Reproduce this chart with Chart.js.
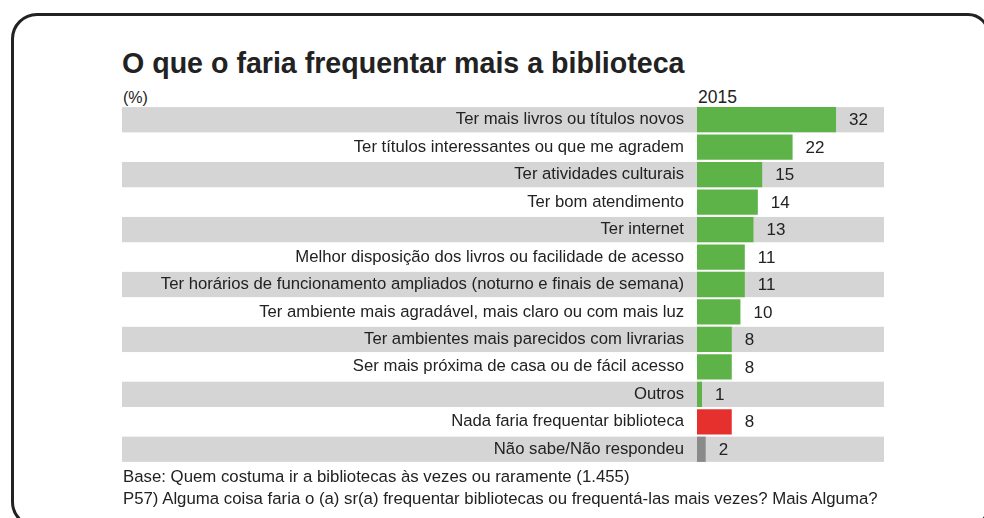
<!DOCTYPE html>
<html>
<head>
<meta charset="utf-8">
<script src="https://cdn.jsdelivr.net/npm/chart.js@4/dist/chart.umd.min.js"></script>
<style>
  body { margin: 0; background: #fff; font-family: "Liberation Sans", Arial, sans-serif; color: #222; }
  #wrap { position: relative; width: 984px; height: 518px; overflow: hidden; }
  #frame { position: absolute; left: 11px; top: 13px; width: 973px; height: 509px; border: 3px solid #222; border-radius: 26px 22px 22px 26px; }
  .txt { position: absolute; white-space: nowrap; line-height: 1; }
  #title { left: 122px; top: 49px; font-size: 28.6px; font-weight: bold; }
  #pct { left: 123px; top: 89.5px; font-size: 16px; }
  #year { left: 698px; top: 88.7px; font-size: 17.5px; }
  #base { left: 123px; top: 468.8px; font-size: 16.8px; }
  #q { left: 123px; top: 491.3px; font-size: 16.8px; }
  canvas { position: absolute; left: 0; top: 0; }
</style>
</head>
<body>
<div id="wrap">
  <div id="frame"></div>
  <div class="txt" id="title">O que o faria frequentar mais a biblioteca</div>
  <div class="txt" id="pct">(%)</div>
  <div class="txt" id="year">2015</div>
  <canvas id="myChart" width="984" height="518"></canvas>
  <div class="txt" id="base">Base: Quem costuma ir a bibliotecas às vezes ou raramente (1.455)</div>
  <div class="txt" id="q">P57) Alguma coisa faria o (a) sr(a) frequentar bibliotecas ou frequentá-las mais vezes? Mais Alguma?</div>
</div>
<script>
const categories = [
  'Ter mais livros ou títulos novos',
  'Ter títulos interessantes ou que me agradem',
  'Ter atividades culturais',
  'Ter bom atendimento',
  'Ter internet',
  'Melhor disposição dos livros ou facilidade de acesso',
  'Ter horários de funcionamento ampliados (noturno e finais de semana)',
  'Ter ambiente mais agradável, mais claro ou com mais luz',
  'Ter ambientes mais parecidos com livrarias',
  'Ser mais próxima de casa ou de fácil acesso',
  'Outros',
  'Nada faria frequentar biblioteca',
  'Não sabe/Não respondeu'
];
const values2015 = [32, 22, 15, 14, 13, 11, 11, 10, 8, 8, 1, 8, 2];
const barColors = ['#5db348', '#5db348', '#5db348', '#5db348', '#5db348', '#5db348', '#5db348',
  '#5db348', '#5db348', '#5db348', '#5db348', '#e5302e', '#8a8a8a'];

const FONT = '"Liberation Sans", Arial, sans-serif';

// grey bands behind every other row (drawn before the axis labels)
const bandPlugin = {
  id: 'bands',
  beforeDraw(chart) {
    const ctx = chart.ctx;
    const bars = chart.getDatasetMeta(0).data;
    ctx.save();
    ctx.fillStyle = '#d5d5d5';
    bars.forEach((b, i) => {
      if (i % 2 === 0) ctx.fillRect(122, b.y - b.height / 2, 884 - 122, b.height);
    });
    ctx.restore();
  }
};

// numbers right of the bars
const valuePlugin = {
  id: 'values',
  afterDatasetsDraw(chart) {
    const ctx = chart.ctx;
    const bars = chart.getDatasetMeta(0).data;
    ctx.save();
    ctx.font = '17px ' + FONT;
    ctx.fillStyle = '#222';
    ctx.textBaseline = 'middle';
    bars.forEach((b, i) => {
      ctx.fillText(values2015[i], b.x + 13, b.y + 1);
    });
    ctx.restore();
  }
};

const ctx = document.getElementById('myChart').getContext('2d');
let myChart = new Chart(ctx, {
  type: 'bar',
  data: {
    labels: categories,
    datasets: [{
      label: '2015',
      data: values2015,
      backgroundColor: barColors,
      borderWidth: 0,
      barPercentage: 0.92,
      categoryPercentage: 1,
      minBarLength: 5
    }]
  },
  options: {
    indexAxis: 'y',
    responsive: false,
    animation: false,
    layout: { padding: { left: 0, top: 106, right: 98, bottom: 55 } },
    plugins: { legend: { display: false }, tooltip: { enabled: false } },
    scales: {
      x: { display: false, min: 0, max: 43.5 },
      y: {
        grid: { display: false, drawTicks: false },
        border: { display: false },
        ticks: { autoSkip: false, padding: 13, color: '#222', font: { family: FONT, size: 16.7 } },
        afterFit(scale) { scale.width = 697; }
      }
    }
  },
  plugins: [bandPlugin, valuePlugin]
});
</script>
</body>
</html>
